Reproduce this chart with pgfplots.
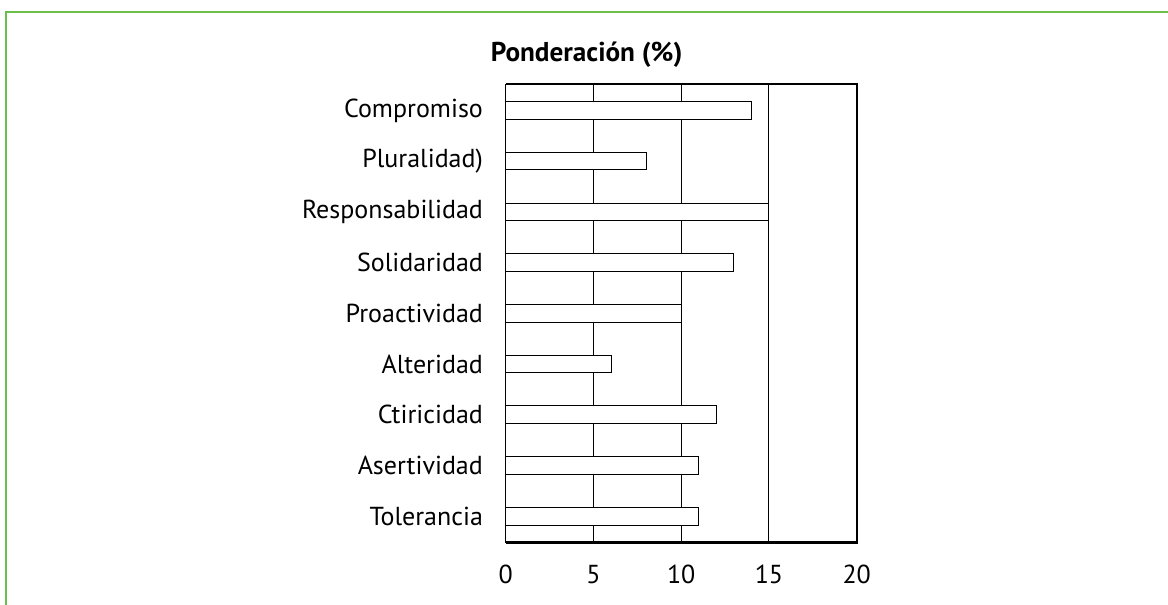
\documentclass[border=0pt]{standalone}
\usepackage{fontspec}
\setmainfont{PT Sans}
\usepackage{pgfplots}
\pgfplotsset{compat=1.18}
\newlength\px \setlength\px{0.5pt}
\definecolor{framegreen}{RGB}{106,190,74}
\begin{document}
\begin{tikzpicture}
\begin{scope}[x=\px,y=\px]
\useasboundingbox (0,0) rectangle (1168,605);
\draw[framegreen, line width=2\px] (6,0) -- (6,593) -- (1168,593);
\node[font=\fontsize{13.6pt}{16pt}\selectfont\bfseries, anchor=base, inner sep=0pt] at (586.7,543.3) {Ponderación (\%)};
\end{scope}
\begin{axis}[at={(505.7\px,62.3\px)}, anchor=south west, scale only axis,
 width=351\px, height=458.7\px,
 xmin=0, xmax=20, ymin=-0.52, ymax=8.52,
 xbar, bar width=17.7\px,
 xtick={0,5,10,15,20}, ytick={0,...,8},
 yticklabels={Tolerancia,Asertividad,Ctiricidad,Alteridad,Proactividad,Solidaridad,Responsabilidad,Pluralidad),Compromiso},
 major tick length=0pt,
 axis line style={draw=none},
 xmajorgrids, grid style={black, line width=1\px},
 ticklabel style={font=\fontsize{13pt}{15pt}\selectfont},
 /pgf/number format/assume math mode=true,
 yticklabel style={inner sep=0pt, xshift=-22.4\px},
 xticklabel style={inner sep=0pt, yshift=-22\px},
 clip=false]
\addplot[draw=black, fill=white, line width=1\px] coordinates {(11,0) (11,1) (12,2) (6,3) (10,4) (13,5) (15,6) (8,7) (14,8)};
\draw[line width=1\px] (rel axis cs:0,0) -- (rel axis cs:0,1);
\draw[line width=2.4\px] (rel axis cs:0,1) -- (rel axis cs:1,1) -- (rel axis cs:1,0) -- (rel axis cs:0,0);
\end{axis}
\end{tikzpicture}
\end{document}
